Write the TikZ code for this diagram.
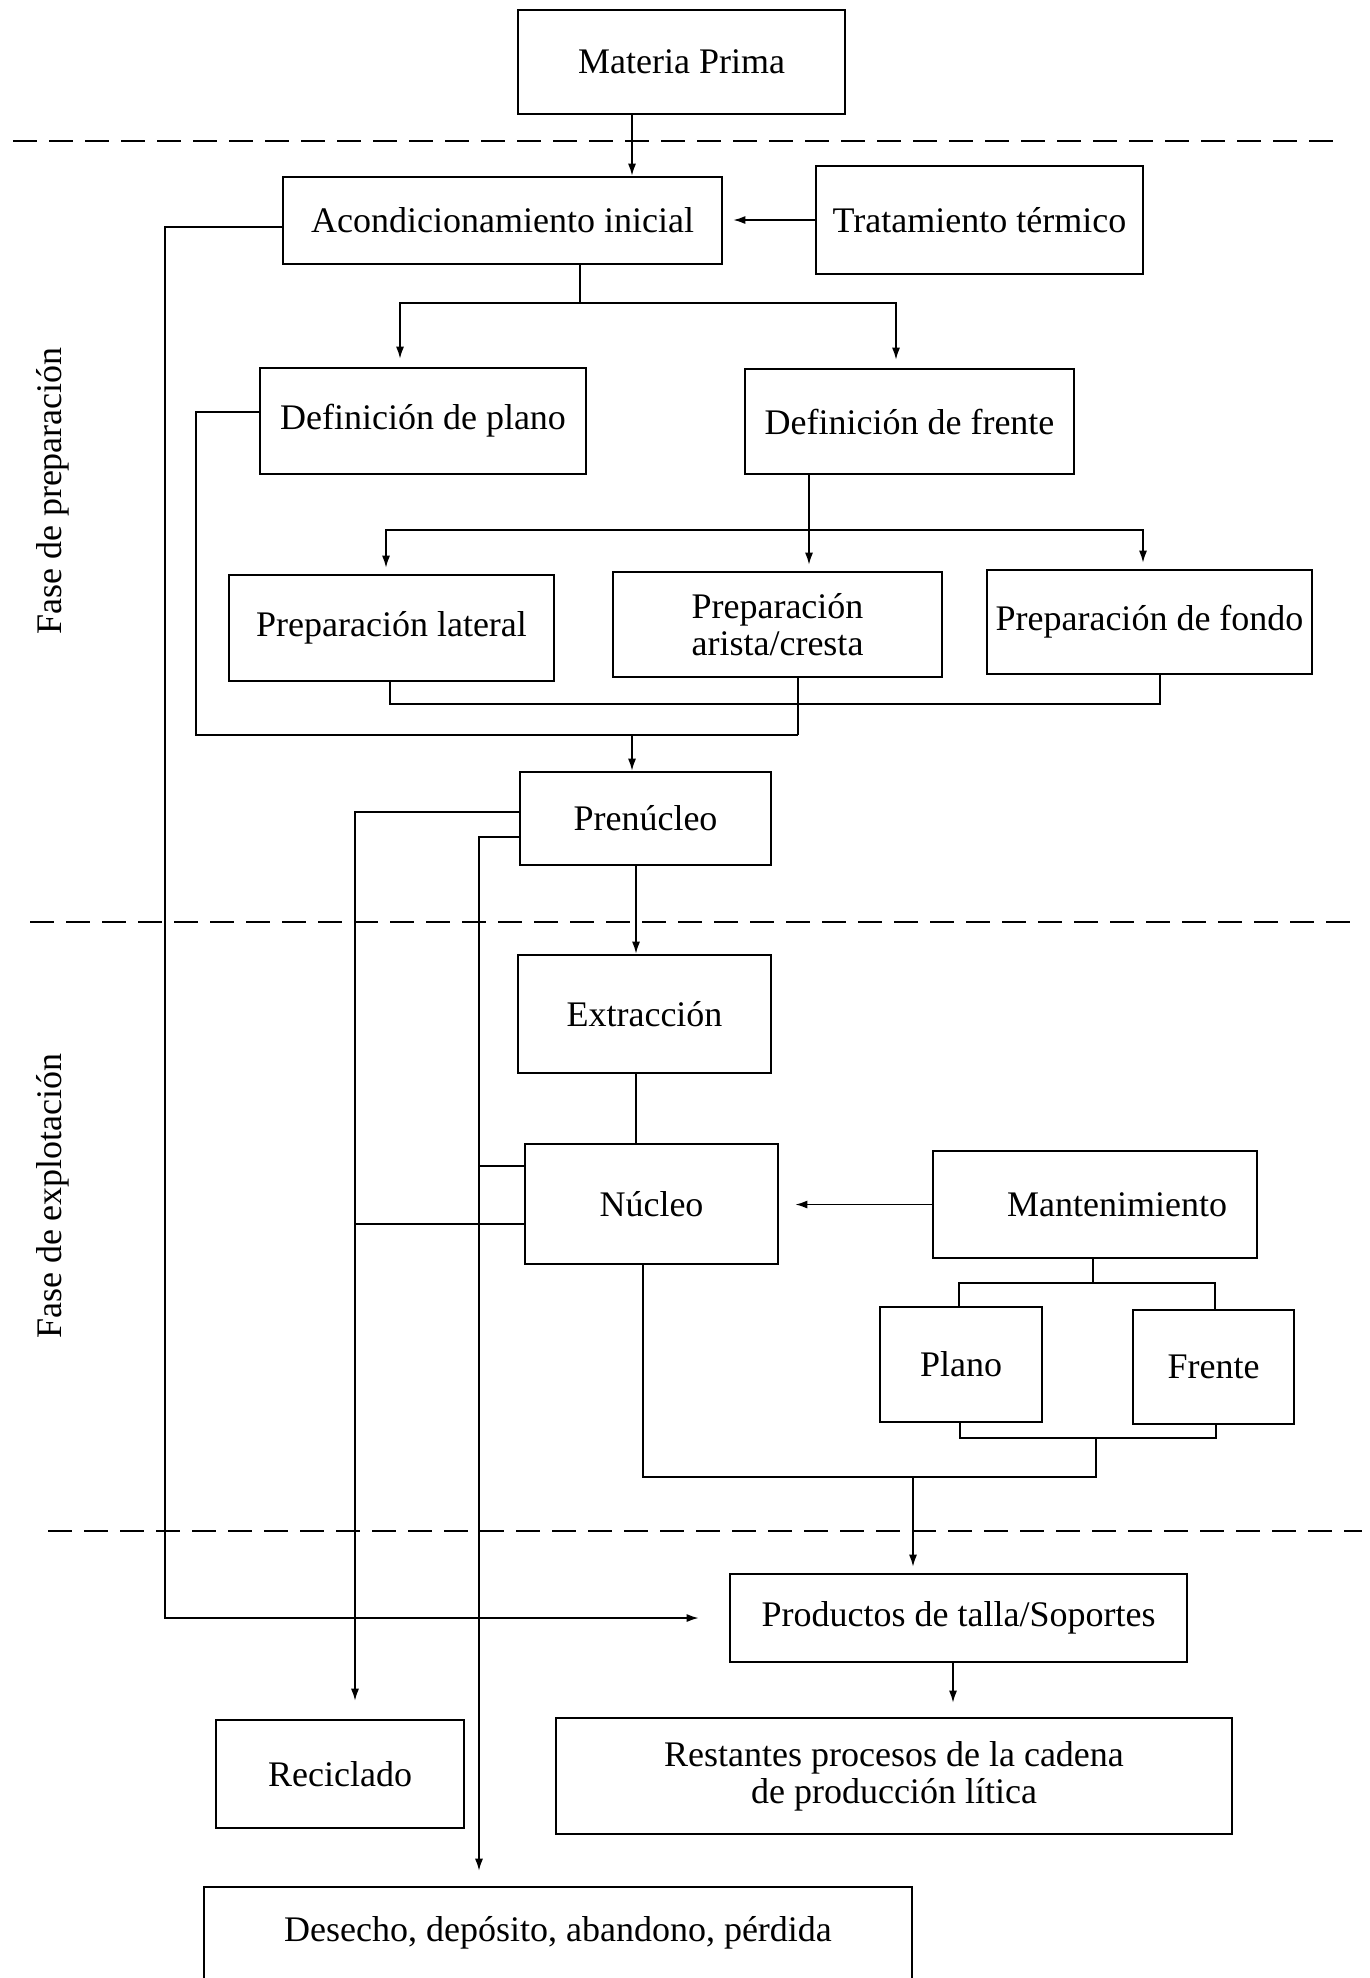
\documentclass[tikz,border=0pt]{standalone}
\usepackage{fontspec}
\setmainfont{Liberation Serif}
\usetikzlibrary{arrows.meta,calc}
\begin{document}
\begin{tikzpicture}[x=0.5pt,y=-0.5pt,
  box/.style={draw, line width=1.3pt, inner sep=0pt, align=center,
    font=\fontsize{18pt}{18.5pt}\selectfont},
  conn/.style={line width=0.8pt},
  arr/.style={conn, -{Latex[length=6pt,width=4pt]}},
  phase/.style={dash pattern=on 12pt off 6pt, line width=1.2pt},
  side/.style={rotate=90, inner sep=0pt, font=\fontsize{18pt}{18pt}\selectfont}]
\useasboundingbox (0,0) rectangle (1370,1978);

% boxes
\node[box, minimum width=163.5pt, minimum height=52pt] (mp) at (681.5,62) {Materia Prima};
\node[box, minimum width=219.5pt, minimum height=43.5pt] (acond) at (502.5,220.5) {Acondicionamiento inicial};
\node[box, minimum width=163.5pt, minimum height=54pt] (trat) at (979.5,220) {Tratamiento térmico};
\node[box, minimum width=163pt, minimum height=53pt] (dplano) at (423,421) {Definición de plano};
\node[box, minimum width=164.5pt, minimum height=52.5pt] (dfrente) at (909.5,421.5) {Definición de frente};
\node[box, minimum width=162.5pt, minimum height=53pt] (plat) at (391.5,628) {Preparación lateral};
\node[box, minimum width=164.5pt, minimum height=52.5pt] (parista) at (777.5,624.5) {Preparación\\arista/cresta};
\node[box, minimum width=162.5pt, minimum height=52pt] (pfondo) at (1149.5,622) {Preparación de fondo};
\node[box, minimum width=125.5pt, minimum height=46.5pt] (pren) at (645.5,818.5) {Prenúcleo};
\node[box, minimum width=126.5pt, minimum height=59pt] (extr) at (644.5,1014) {Extracción};
\node[box, minimum width=126.5pt, minimum height=60pt] (nucleo) at (651.5,1204) {Núcleo};
\node[box, minimum width=162pt, minimum height=53.5pt] (mant) at (1095,1204.5) {\hspace*{22pt}Mantenimiento};
\node[box, minimum width=81pt, minimum height=57.5pt] (plano) at (961,1364.5) {Plano};
\node[box, minimum width=80.5pt, minimum height=57pt] (frente) at (1213.5,1367) {Frente};
\node[box, minimum width=228.5pt, minimum height=44pt] (prod) at (958.5,1618) {Productos de talla/Soportes};
\node[box, minimum width=124pt, minimum height=54pt] (recic) at (340,1774) {Reciclado};
\node[box, minimum width=338pt, minimum height=58pt] (rest) at (894,1776) {Restantes procesos de la cadena\\de producción lítica};
\node[box, minimum width=354pt, minimum height=46pt] (desecho) at (558,1933) {Desecho, depósito, abandono, pérdida};

% side labels
\node[side] (fprep) at (53,491) {Fase de preparación};
\node[side] (fexpl) at (53,1196) {Fase de explotación};

% phase separators
\draw[phase] (13,141) -- (1343,141);
\draw[phase] (30,922) -- (1350,922);
\draw[phase] (48,1531) -- (1362,1531);

% helper coordinates
\coordinate (xa) at (632,0);
\coordinate (j1) at (580,303);
\coordinate (ja) at (400,303);
\coordinate (jb) at (896,303);
\coordinate (L1) at (165,0);
\coordinate (y227) at (0,227);
\coordinate (y412) at (0,412);
\coordinate (L2) at (196,735);
\coordinate (j2) at (798,735);
\coordinate (j3) at (390,704);
\coordinate (j4) at (1160,704);
\coordinate (j5) at (632,735);
\coordinate (j6) at (809,530);
\coordinate (j7) at (386,530);
\coordinate (j8) at (1143,530);
\coordinate (L3) at (355,812);
\coordinate (L4) at (479,837);
\coordinate (y1166) at (0,1166);
\coordinate (y1224) at (0,1224);
\coordinate (x636) at (636,0);
\coordinate (m1) at (1093,1283);
\coordinate (m2) at (959,1283);
\coordinate (m3) at (1215,1283);
\coordinate (b1) at (960,1438);
\coordinate (b2) at (1216,1438);
\coordinate (b3) at (1096,1438);
\coordinate (b4) at (1096,1477);
\coordinate (b5) at (643,1477);
\coordinate (b6) at (913,1477);
\coordinate (x953) at (953,0);

% connectors
\draw[arr] (mp.south -| xa) -- (acond.north -| xa);
\draw[arr, shorten >=5pt] (trat.west) -- (trat.west -| acond.east);
\draw[conn] (acond.south -| j1) -- (j1);
\draw[arr, shorten >=4pt] (j1) -- (ja) -- (dplano.north -| ja);
\draw[arr, shorten >=4pt] (j1) -- (jb) -- (dfrente.north -| jb);
\draw[arr, shorten >=15pt] (acond.west |- y227) -- (L1 |- y227) -- (L1 |- prod.west) -- (prod.west);

\draw[conn] (dplano.west |- y412) -- (L2 |- y412) -- (L2) -- (j2);
\draw[conn] (parista.south -| j2) -- (j2);
\draw[conn] (plat.south -| j3) -- (j3) -- (j4) -- (pfondo.south -| j4);
\draw[arr] (j5) -- (pren.north -| j5);

\draw[arr, shorten >=3pt] (dfrente.south -| j6) -- (parista.north -| j6);
\draw[arr, shorten >=3pt] (j6) -- (j7) -- (plat.north -| j7);
\draw[arr, shorten >=3pt] (j6) -- (j8) -- (pfondo.north -| j8);

\draw[arr, shorten >=9pt] (pren.west |- L3) -- (L3) -- (L3 |- recic.north);
\draw[arr, shorten >=7.5pt] (pren.west |- L4) -- (L4) -- (L4 |- desecho.north);
\draw[conn] (nucleo.west |- y1166) -- (L4 |- y1166);
\draw[conn] (nucleo.west |- y1224) -- (L3 |- y1224);

\draw[arr] (pren.south -| x636) -- (extr.north -| x636);
\draw[conn] (extr.south -| x636) -- (nucleo.north -| x636);
\draw[arr, shorten >=8pt] (mant.west) -- (mant.west -| nucleo.east);

\draw[conn] (mant.south -| m1) -- (m1);
\draw[conn] (plano.north -| m2) -- (m2) -- (m3) -- (frente.north -| m3);
\draw[conn] (plano.south -| b1) -- (b1) -- (b2) -- (frente.south -| b2);
\draw[conn] (b3) -- (b4) -- (b5) -- (nucleo.south -| b5);
\draw[arr, shorten >=3pt] (b6) -- (prod.north -| b6);
\draw[arr, shorten >=7pt] (prod.south -| x953) -- (rest.north -| x953);
\end{tikzpicture}
\end{document}
